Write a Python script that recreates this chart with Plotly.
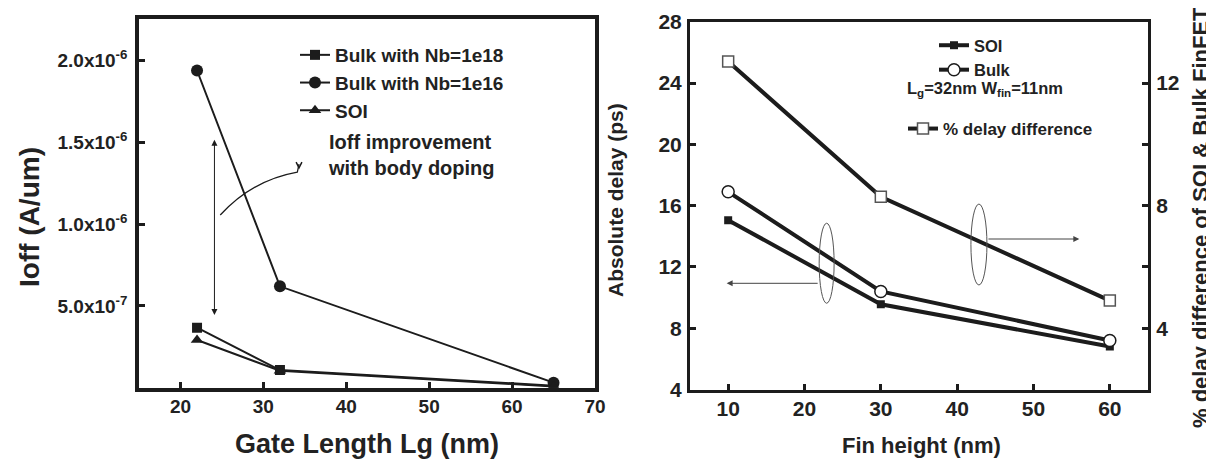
import plotly.graph_objects as go

# ---------------- data ----------------
gate_length = [22, 32, 65]
ioff_nb1e18 = [0.367e-6, 0.108e-6, 0.012e-6]
ioff_nb1e16 = [1.94e-6, 0.62e-6, 0.031e-6]
ioff_soi = [0.292e-6, 0.104e-6, 0.008e-6]

left_yticks = [5e-7, 1e-6, 1.5e-6, 2e-6]
left_yticktext = ["5.0x10<sup>-7</sup>", "1.0x10<sup>-6</sup>",
                  "1.5x10<sup>-6</sup>", "2.0x10<sup>-6</sup>"]

fin_height = [10, 30, 60]
delay_soi = [15.05, 9.56, 6.8]
delay_bulk = [16.9, 10.4, 7.2]
pct_delay_diff = [12.7, 8.29, 4.9]

FONT = "Liberation Sans, Arial, Helvetica, sans-serif"
INK = "#1c1c1c"
TXT = "#222222"

fig = go.Figure()

# ---------------- left panel ----------------
fig.add_trace(go.Scatter(
    x=gate_length, y=ioff_nb1e18, mode="lines+markers", name="<b>Bulk with Nb=1e18</b>",
    line=dict(color=INK, width=2), marker=dict(symbol="square", size=10, color=INK),
    xaxis="x", yaxis="y", legend="legend"))
fig.add_trace(go.Scatter(
    x=gate_length, y=ioff_nb1e16, mode="lines+markers", name="<b>Bulk with Nb=1e16</b>",
    line=dict(color=INK, width=2), marker=dict(symbol="circle", size=12, color=INK),
    xaxis="x", yaxis="y", legend="legend"))
fig.add_trace(go.Scatter(
    x=gate_length, y=ioff_soi, mode="lines+markers", name="<b>SOI</b>",
    line=dict(color=INK, width=2), marker=dict(symbol="triangle-up", size=11, color=INK),
    xaxis="x", yaxis="y", legend="legend"))

# ---------------- right panel ----------------
fig.add_trace(go.Scatter(
    x=fin_height, y=delay_soi, mode="lines+markers", name="<b>SOI</b>",
    line=dict(color=INK, width=4), marker=dict(symbol="square", size=8, color=INK),
    xaxis="x2", yaxis="y2", legend="legend2"))
fig.add_trace(go.Scatter(
    x=fin_height, y=delay_bulk, mode="lines+markers", name="<b>Bulk</b>",
    line=dict(color=INK, width=4),
    marker=dict(symbol="circle", size=12, color="white", line=dict(color=INK, width=1.5)),
    xaxis="x2", yaxis="y2", legend="legend2"))
fig.add_trace(go.Scatter(
    x=fin_height, y=pct_delay_diff, mode="lines+markers", name="<b>% delay difference</b>",
    line=dict(color=INK, width=4),
    marker=dict(symbol="square", size=11, color="white", line=dict(color="#555555", width=1.5)),
    xaxis="x2", yaxis="y3", legend="legend3"))

# The page body has an 8px margin, so the figure is 8px smaller and positions are offset.
OFF = 8
W, H = 1214 - OFF, 462 - OFF
def px(v):
    return (v - OFF) / W
def py(v):
    return 1 - (v - OFF) / H

tickfont = dict(family=FONT, size=19, color=TXT, weight="bold")
tickfont_r = dict(family=FONT, size=21, color=TXT, weight="bold")

fig.update_layout(
    width=W, height=H,
    margin=dict(l=0, r=0, t=0, b=0, autoexpand=False),
    paper_bgcolor="white", plot_bgcolor="white",
    font=dict(family=FONT, color=TXT),
    xaxis=dict(domain=[px(139), px(595)], range=[15, 70], tickvals=[20, 30, 40, 50, 60, 70],
               ticks="inside", ticklen=6, tickwidth=3, tickcolor=INK,
               showline=True, linewidth=3.5, linecolor=INK, mirror=True, automargin=False,
               showgrid=False, zeroline=False, tickfont=tickfont, anchor="y",
               ticklabelstandoff=-1),
    yaxis=dict(domain=[py(387.7), py(19)], range=[0, 2.255e-6], tickvals=left_yticks,
               ticktext=left_yticktext, ticks="inside", ticklen=6, tickwidth=3, tickcolor=INK,
               showline=True, linewidth=3.5, linecolor=INK, mirror=True, automargin=False,
               showgrid=False, zeroline=False, tickfont=tickfont, anchor="x",
               ticklabelstandoff=4),
    xaxis2=dict(domain=[px(690), px(1148)], range=[5, 65], tickvals=[10, 20, 30, 40, 50, 60],
                ticks="inside", ticklen=6, tickwidth=3, tickcolor=INK,
                showline=True, linewidth=3, linecolor=INK, mirror=True, automargin=False,
                showgrid=False, zeroline=False, tickfont=tickfont_r, anchor="y2",
                ticklabelstandoff=-2),
    yaxis2=dict(domain=[py(389.5), py(21.7)], range=[4, 28], tickvals=[4, 8, 12, 16, 20, 24, 28],
                ticks="inside", ticklen=6, tickwidth=3, tickcolor=INK,
                showline=True, linewidth=3, linecolor=INK, mirror=False, automargin=False,
                showgrid=False, zeroline=False, tickfont=tickfont_r, anchor="x2",
                ticklabelstandoff=1),
    yaxis3=dict(overlaying="y2", side="right", range=[2, 14], tickvals=[4, 8, 12],
                ticks="inside", ticklen=6, tickwidth=3, tickcolor=INK,
                minor=dict(tickvals=[6, 10], ticks="inside", ticklen=6, tickwidth=3, tickcolor=INK),
                showline=True, linewidth=3, linecolor=INK, anchor="x2", automargin=False,
                showgrid=False, zeroline=False, tickfont=tickfont_r, ticklabelstandoff=1),
    legend=dict(x=px(295), y=py(36), xanchor="left", yanchor="top",
                bgcolor="rgba(0,0,0,0)", font=dict(family=FONT, size=19, color=TXT),
                tracegroupgap=0),
    legend2=dict(x=px(934), y=py(28), xanchor="left", yanchor="top",
                 bgcolor="rgba(0,0,0,0)", font=dict(family=FONT, size=16.5, color=TXT)),
    legend3=dict(x=px(903), y=py(111), xanchor="left", yanchor="top",
                 bgcolor="rgba(0,0,0,0)", font=dict(family=FONT, size=17, color=TXT)),
    showlegend=True,
)

# ---------------- annotations / titles ----------------
def paper_text(text, x, y, size, angle=0, xanchor="center", yanchor="middle", align="center"):
    return dict(text=text, x=px(x), y=py(y), xref="paper", yref="paper", textangle=angle,
                xanchor=xanchor, yanchor=yanchor, align=align, showarrow=False,
                font=dict(family=FONT, size=size, color=TXT))

ann = [
    paper_text("<b>Ioff (A/um)</b>", 29, 217, 28, angle=-90),
    paper_text("<b>Gate Length Lg (nm)</b>", 367, 444, 27),
    paper_text("<b>Absolute delay (ps)</b>", 616, 200, 21, angle=-90),
    paper_text("<b>% delay difference of SOI &amp; Bulk FinFET</b>", 1200, 218, 22, angle=-90),
    paper_text("<b>Fin height (nm)</b>", 921, 445, 22),
    paper_text("<b>Ioff improvement<br>with body doping</b>", 326, 154.5, 20,
               xanchor="left", align="left"),
    paper_text("<b>L<sub>g</sub>=32nm W<sub>fin</sub>=11nm</b>", 905, 89, 16.5, xanchor="left"),
]

# double arrow in left panel (Ioff improvement range)
ann.append(dict(x=24.1, y=0.445e-6, ax=24.1, ay=1.526e-6, xref="x", yref="y", axref="x", ayref="y",
                text="", showarrow=True, arrowhead=2, arrowside="end+start", arrowsize=1.2,
                arrowwidth=1, arrowcolor=INK))
# arrows pointing to axes in right panel
ann.append(dict(x=9.8, y=10.93, ax=21.92, ay=10.93, xref="x2", yref="y2", axref="x2", ayref="y2",
                text="", showarrow=True, arrowhead=2, arrowsize=1.2, arrowwidth=1, arrowcolor="#444"))
ann.append(dict(x=56.0, y=13.82, ax=43.9, ay=13.82, xref="x2", yref="y2", axref="x2", ayref="y2",
                text="", showarrow=True, arrowhead=2, arrowsize=1.2, arrowwidth=1, arrowcolor="#444"))
fig.update_layout(annotations=ann)

# ---------------- shapes ----------------
shapes = []
# curved pointer in left panel
shapes.append(dict(type="path", xref="x", yref="y",
                   path="M 24.8,1.056e-6 Q 28.65,1.27e-6 34.1,1.319e-6 L 34.3,1.368e-6",
                   line=dict(color=INK, width=1.3)))
shapes.append(dict(type="path", xref="x", yref="y",
                   path="M 33.95,1.38e-6 L 34.3,1.345e-6 L 34.65,1.38e-6",
                   line=dict(color=INK, width=1.5)))
# ellipses in right panel
shapes.append(dict(type="circle", xref="x2", yref="y2", x0=21.92, x1=23.88, y0=9.63, y1=14.85,
                   line=dict(color="#555", width=1)))
shapes.append(dict(type="circle", xref="x2", yref="y2", x0=41.8, x1=43.9, y0=10.82, y1=16.1,
                   line=dict(color="#555", width=1)))
fig.update_layout(shapes=shapes)

fig.write_html("out.html")
